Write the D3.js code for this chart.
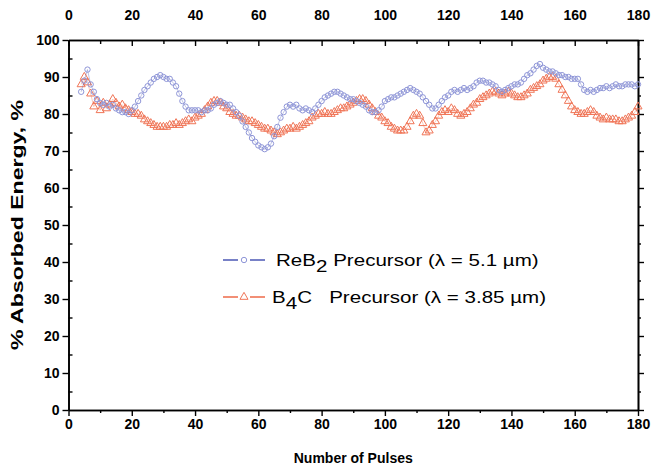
<!DOCTYPE html>
<html><head><meta charset="utf-8">
<script src="https://cdn.jsdelivr.net/npm/d3@7"></script>
<style>body{margin:0;background:#fff}svg{display:block}</style></head>
<body><svg id="c" width="654" height="468"></svg>
<script>
const firstPulse = 4;
const reb2 = [86,89,92,88,86,84,83,82.5,83,82,82.5,81.5,81,80.5,80.5,80,81,82,83.5,85,86.5,87.5,88.5,89.5,90,90.5,90,89.5,89.5,88.5,87.5,85.5,83.5,82,81,81,81,81,80.5,81,81,81.5,82.5,83,83.5,83,82.5,82.5,81.5,80.5,79.5,78,76.5,75,73.5,72.5,71.5,71,70.5,71,72,74,76.5,79,80.5,82,82.5,82,82.5,81.5,81,81.5,81,80.5,81.5,82.5,83.5,84.5,85,85.5,86,86,85.5,85,84.5,84,84,83.5,83,82.5,82,81,80.5,80.5,81,82,83.5,84,84.5,84.5,85,85.5,86,86.5,87,86.5,86,85.5,84.5,83.5,82.5,81.5,81.5,82.5,83.5,84.5,85,86,86.5,86,86.5,87,86.5,87,87.5,88.5,89,89,88.5,88.5,88,87.5,86.5,86,86.5,87,87.5,88,88,88.5,89.5,90.5,91,92,93,93.5,92.5,92,91.5,91.5,91,90.5,90.5,90,90,89.5,89.5,89.5,88,86.5,86,86.5,86,86.5,87,87,87.5,87,87.5,88,87.5,87.5,88,88,88,87.5,88];
const b4c = [88,90,88.5,85.5,82,83.5,81,83,81.5,82.5,84,83,82,82.5,81.5,81,80.5,80,80,79.5,78.5,78,77.5,77,76.5,76.5,76.5,76.5,77,77,77.5,77,77.5,78,78.5,78,79,79.5,80,81,82,83,83.5,83.5,83,82,81.5,80.5,80,79.5,79.5,79,78.5,78,78,77.5,77,76.5,76,76,75.5,75,74.5,75,75.5,76,76,76.5,76,76.5,77,77.5,78,79,79.5,80,80,80.5,80,80,80.5,81,81.5,81.5,82,82.5,83,83.5,84,84,83.5,82.5,81.5,80.5,79.5,79,78,77.5,76.5,76,75.5,75.5,75.5,76.5,78,79.5,80,79.5,77.5,75,75.5,77,78,79.5,80.5,81,80.5,81.5,81,80,79.5,80,80.5,81.5,82.5,83,84,84.5,85,85.5,86,86,85.5,85,85.5,86,85.5,85,84.5,84.5,85,85.5,86.5,87,87.5,88,89,89.5,90,90,89.5,88,86.5,85,83.5,82,81,80.5,80,80,80.5,81,80.5,79.5,79,78.5,79,78.5,78.5,78.5,78,78,78.5,79,79.5,80.5,82];
const xTicks = [0,20,40,60,80,100,120,140,160,180];
const yTicks = [0,10,20,30,40,50,60,70,80,90,100];
const xMinor = [10,30,50,70,90,110,130,150,170];
const yMinor = [5,15,25,35,45,55,65,75,85,95];
const legendLabels = [["ReB","2"," Precursor (λ = 5.1 µm)"],["B","4","C   Precursor (λ = 3.85 µm)"]];

const svg = d3.select("#c");
const L=68.5, R=638, T=40, B=410;
const x = d3.scaleLinear().domain([0,180]).range([L,R]);
const y = d3.scaleLinear().domain([0,100]).range([B,T]);
const font = "'Liberation Sans', Arial, sans-serif";
const blueM = "#8f96d8", blueL = "#4b57b5", orM = "#f07557", orL = "#ee6a48";

function axisStyle(g){
  g.selectAll("path").attr("stroke","#000").attr("stroke-width",1.6);
  g.selectAll("line").attr("stroke","#000").attr("stroke-width",1.4);
  g.selectAll("text").attr("font-family",font).attr("font-weight","bold").attr("font-size",14).attr("fill","#000");
}
svg.append("g").attr("transform",`translate(0,${B})`).call(d3.axisBottom(x).tickValues(xTicks).tickSize(6).tickSizeOuter(0).tickPadding(3)).call(axisStyle);
svg.append("g").attr("transform",`translate(0,${B})`).call(d3.axisBottom(x).tickValues(xMinor).tickSize(3).tickSizeOuter(0).tickFormat("")).call(axisStyle);
svg.append("g").attr("transform",`translate(0,${T})`).call(d3.axisTop(x).tickValues(xTicks).tickSize(-6).tickSizeOuter(0).tickPadding(20)).call(axisStyle);
svg.append("g").attr("transform",`translate(0,${T})`).call(d3.axisTop(x).tickValues(xMinor).tickSize(-4).tickSizeOuter(0).tickFormat("")).call(axisStyle);
svg.append("g").attr("transform",`translate(${L},0)`).call(d3.axisLeft(y).tickValues(yTicks).tickSize(6).tickSizeOuter(0).tickPadding(3)).call(axisStyle);
svg.append("g").attr("transform",`translate(${L},0)`).call(d3.axisLeft(y).tickValues(yMinor).tickSize(-4).tickSizeOuter(0).tickFormat("")).call(axisStyle);
svg.append("g").attr("transform",`translate(${R},0)`).call(d3.axisRight(y).tickValues(yTicks).tickSize(6).tickSizeOuter(0).tickFormat("")).call(axisStyle);
svg.append("g").attr("transform",`translate(${R},0)`).call(d3.axisRight(y).tickValues(yMinor).tickSize(3).tickSizeOuter(0).tickFormat("")).call(axisStyle);

svg.append("text").attr("x",(L+R)/2).attr("y",463).attr("text-anchor","middle").attr("font-family",font).attr("font-weight","bold").attr("font-size",14).text("Number of Pulses");
svg.append("text").attr("transform",`translate(23,${(T+B)/2}) rotate(-90)`).attr("text-anchor","middle")
  .attr("font-family",font).attr("font-weight","bold").attr("font-size",16)
  .attr("textLength",250).attr("lengthAdjust","spacingAndGlyphs").text("% Absorbed Energy, %");

const series = [
  {vals:reb2, m:blueM, l:blueL, shape:"circle"},
  {vals:b4c, m:orM, l:orL, shape:"triangle"}
];
const tri = d3.symbol().type(d3.symbolTriangle).size(28);
series.slice().reverse().forEach(s=>{
  const pts = s.vals.map((v,i)=>[firstPulse+i, v]);
  svg.append("path").datum(pts).attr("fill","none").attr("stroke",s.l).attr("stroke-width",0.7).attr("stroke-opacity",0.5)
    .attr("d",d3.line().x(d=>x(d[0])).y(d=>y(d[1])));
  const g = svg.append("g");
  if(s.shape==="circle"){
    g.selectAll("circle").data(pts).join("circle").attr("cx",d=>x(d[0])).attr("cy",d=>y(d[1])).attr("r",2.7)
      .attr("fill","none").attr("stroke",s.m).attr("stroke-width",1);
  } else {
    g.selectAll("path").data(pts).join("path").attr("d",tri).attr("transform",d=>`translate(${x(d[0])},${y(d[1])})`)
      .attr("fill","none").attr("stroke",s.m).attr("stroke-width",1);
  }
});

const legY = [260, 297];
const legTextX = [276, 272];
legendLabels.forEach((lab,i)=>{
  const s = series[i];
  const yy = legY[i];
  const g = svg.append("g");
  g.append("line").attr("x1",223).attr("x2",238).attr("y1",yy).attr("y2",yy).attr("stroke",s.l).attr("stroke-width",1.5);
  g.append("line").attr("x1",250).attr("x2",265).attr("y1",yy).attr("y2",yy).attr("stroke",s.l).attr("stroke-width",1.5);
  if(s.shape==="circle") g.append("circle").attr("cx",244).attr("cy",yy).attr("r",2.7).attr("fill","none").attr("stroke",s.m);
  else g.append("path").attr("d",tri).attr("transform",`translate(244,${yy})`).attr("fill","none").attr("stroke",s.m);
  const t = g.append("text").attr("transform",`translate(${legTextX[i]},${yy+6}) scale(1.21,1)`)
    .attr("font-family",font).attr("font-size",17).attr("fill","#000").style("white-space","pre");
  t.append("tspan").text(lab[0]);
  t.append("tspan").attr("dy",6).text(lab[1]);
  t.append("tspan").attr("dy",-6).text(lab[2]);
});
</script></body></html>
